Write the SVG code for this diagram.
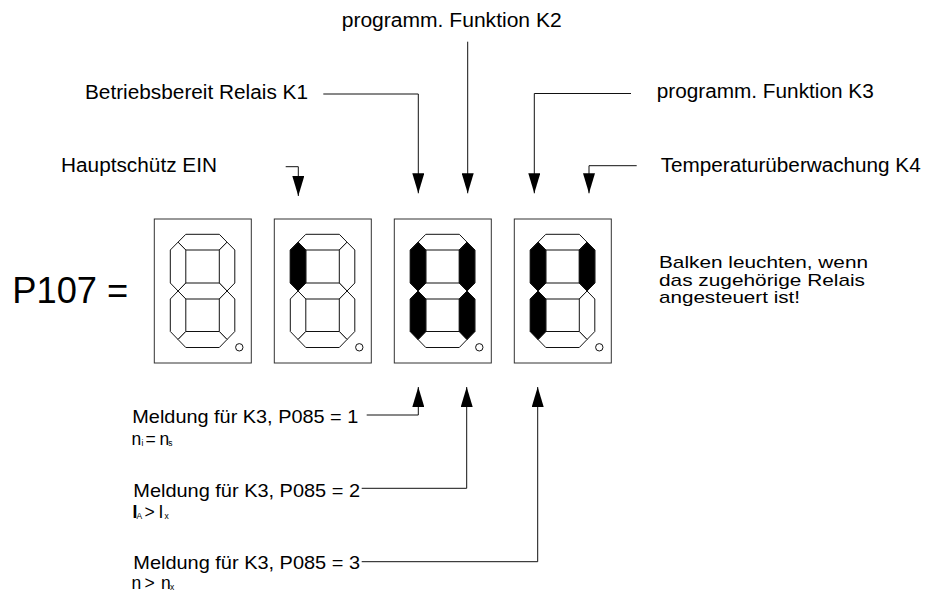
<svg xmlns="http://www.w3.org/2000/svg" xmlns:xlink="http://www.w3.org/1999/xlink" width="927" height="592" viewBox="0 0 927 592">
<style>
text{font-family:"Liberation Sans",Arial,sans-serif;fill:#000}
.t20{font-size:20px}
.t18{font-size:18.5px}
.t17{font-size:17px}
.t16{font-size:17.5px}
.sub{font-size:8.5px}
.box{fill:#fff;stroke:#333;stroke-width:1}
.seg{fill:#fff;stroke:#111;stroke-width:1;stroke-linejoin:miter}
.on{fill:#000}
.dp{fill:none;stroke:#111;stroke-width:1}
.conn{fill:none;stroke:#111;stroke-width:1}
</style>
<defs>
<marker id="ah" markerUnits="userSpaceOnUse" markerWidth="20" markerHeight="12" refX="20" refY="6" orient="auto" viewBox="0 0 20 12">
<path d="M0,0 L20,6 L0,12 z" fill="#000"/>
</marker>
<polygon id="sA" points="23.75,23.15 31.5,15.3 65,15.3 72.75,23.15 65,31 31.5,31"/>
<polygon id="sF" points="23.75,23.15 31.5,31 31.5,64 23.75,72 16,64 16,31"/>
<polygon id="sB" points="72.75,23.15 80.5,31 80.5,64 72.75,72 65,64 65,31"/>
<polygon id="sG" points="23.75,72 31.5,64 65,64 72.75,72 65,80 31.5,80"/>
<polygon id="sE" points="23.75,72 31.5,80 31.5,112.5 23.75,120.5 16,112.5 16,80"/>
<polygon id="sC" points="72.75,72 80.5,80 80.5,112.5 72.75,120.5 65,112.5 65,80"/>
<polygon id="sD" points="23.75,120.5 31.5,112.5 65,112.5 72.75,120.5 65,128.5 31.5,128.5"/>
<g id="digit">
<rect class="box" x="0" y="0" width="97" height="144"/>
<use xlink:href="#sA" class="seg"/>
<use xlink:href="#sF" class="seg"/>
<use xlink:href="#sB" class="seg"/>
<use xlink:href="#sG" class="seg"/>
<use xlink:href="#sE" class="seg"/>
<use xlink:href="#sC" class="seg"/>
<use xlink:href="#sD" class="seg"/>
<circle class="dp" cx="85" cy="128.3" r="3.7"/>
</g>
</defs>

<g id="title">
<text x="12.3" y="302.7" style="font-size:36px" textLength="116" lengthAdjust="spacingAndGlyphs">P107 =</text>
</g>

<g id="digit1" transform="translate(154.3,219)">
<use xlink:href="#digit"/>
</g>
<g id="digit2" transform="translate(274.3,219)">
<use xlink:href="#digit"/>
<use xlink:href="#sF" class="seg on"/>
</g>
<g id="digit3" transform="translate(394.3,219)">
<use xlink:href="#digit"/>
<use xlink:href="#sF" class="seg on"/>
<use xlink:href="#sB" class="seg on"/>
<use xlink:href="#sE" class="seg on"/>
<use xlink:href="#sC" class="seg on"/>
</g>
<g id="digit4" transform="translate(514.3,219)">
<use xlink:href="#digit"/>
<use xlink:href="#sF" class="seg on"/>
<use xlink:href="#sB" class="seg on"/>
<use xlink:href="#sE" class="seg on"/>
</g>

<g id="label-k2"><text class="t20" x="341.7" y="26.7" textLength="220" lengthAdjust="spacingAndGlyphs">programm. Funktion K2</text></g>
<g id="label-k1"><text class="t20" x="85" y="99.3" textLength="223" lengthAdjust="spacingAndGlyphs">Betriebsbereit Relais K1</text></g>
<g id="label-haupt"><text class="t20" x="61" y="171.7" textLength="156" lengthAdjust="spacingAndGlyphs">Hauptschütz EIN</text></g>
<g id="label-k3"><text class="t20" x="656.7" y="98" textLength="217" lengthAdjust="spacingAndGlyphs">programm. Funktion K3</text></g>
<g id="label-k4"><text class="t20" x="660.7" y="171.7" textLength="260" lengthAdjust="spacingAndGlyphs">Temperaturüberwachung K4</text></g>

<g id="note">
<text class="t17" x="659" y="268.3" textLength="209" lengthAdjust="spacingAndGlyphs">Balken leuchten, wenn</text>
<text class="t17" x="659" y="285.7" textLength="206" lengthAdjust="spacingAndGlyphs">das zugehörige Relais</text>
<text class="t17" x="659" y="303.3" textLength="141" lengthAdjust="spacingAndGlyphs">angesteuert ist!</text>
</g>

<g id="msg1">
<text class="t18" x="132.3" y="423.3" textLength="226" lengthAdjust="spacingAndGlyphs">Meldung für K3, P085 = 1</text>
<text class="t16" y="445"><tspan x="131.5">n</tspan><tspan class="sub" x="141.5" dy="1">i</tspan><tspan x="145.5" dy="-1">=</tspan><tspan x="159.5">n</tspan><tspan class="sub" x="168.3" dy="1">s</tspan></text>
</g>
<g id="msg2">
<text class="t18" x="133.3" y="496.7" textLength="226.7" lengthAdjust="spacingAndGlyphs">Meldung für K3, P085 = 2</text>
<text class="t16" y="518.3"><tspan x="132.5" style="font-weight:bold">I</tspan><tspan class="sub" x="136.5" dy="1">A</tspan><tspan x="144.5" dy="-1">&gt;</tspan><tspan x="158.5">I</tspan><tspan class="sub" x="164.5" dy="1">x</tspan></text>
</g>
<g id="msg3">
<text class="t18" x="133.3" y="569" textLength="226.7" lengthAdjust="spacingAndGlyphs">Meldung für K3, P085 = 3</text>
<text class="t16" y="589"><tspan x="131.5">n</tspan><tspan x="144.5">&gt;</tspan><tspan x="161">n</tspan><tspan class="sub" x="170" dy="1">x</tspan></text>
</g>

<g id="connectors">
<path class="conn" marker-end="url(#ah)" d="M285.7,166.7 H298.3 V196"/>
<path class="conn" marker-end="url(#ah)" d="M323.3,94 H418.3 V193.3"/>
<path class="conn" marker-end="url(#ah)" d="M467.7,41.7 V193.3"/>
<path class="conn" marker-end="url(#ah)" d="M631,93.5 H534.3 V193.3"/>
<path class="conn" marker-end="url(#ah)" d="M636.7,165.7 H589 V193.3"/>
<path class="conn" marker-end="url(#ah)" d="M366.7,415 H418.3 V387"/>
<path class="conn" marker-end="url(#ah)" d="M361.7,488.3 H466.7 V387"/>
<path class="conn" marker-end="url(#ah)" d="M361.7,561.7 H537.7 V387"/>
</g>
</svg>
